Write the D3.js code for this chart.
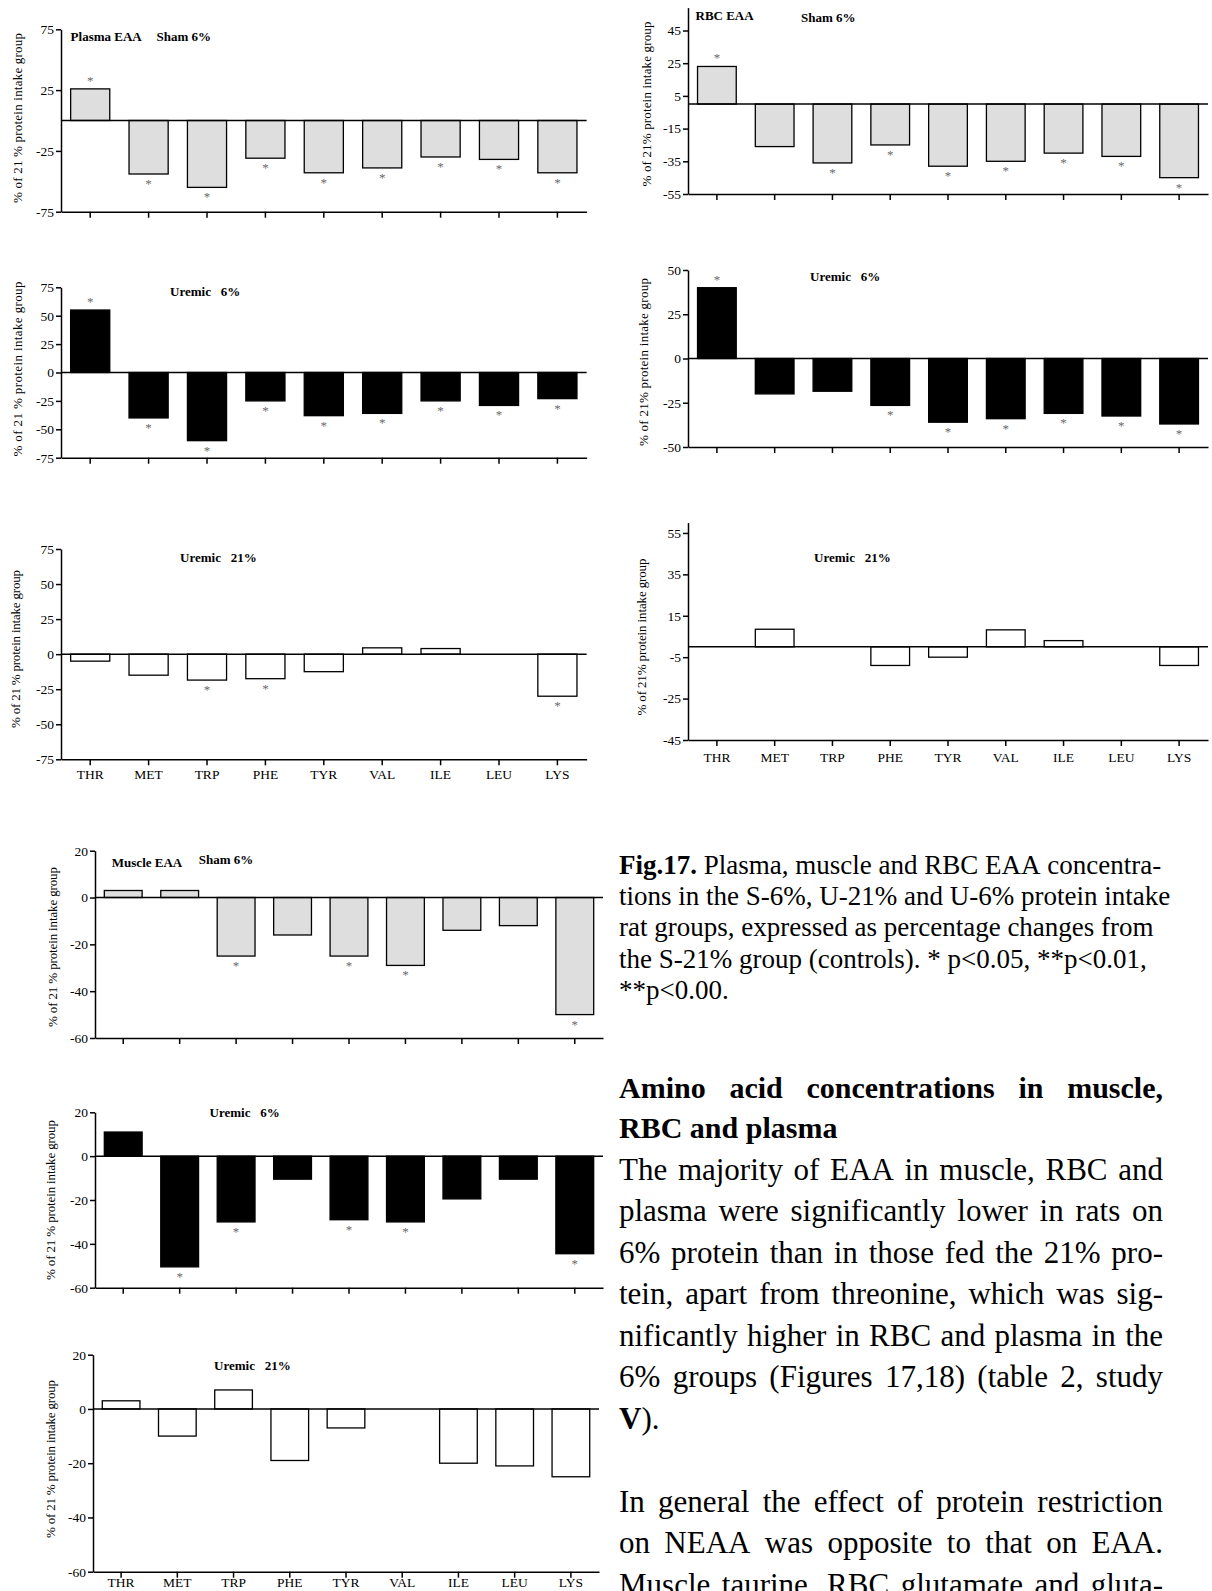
<!DOCTYPE html>
<html>
<head>
<meta charset="utf-8">
<script src="https://cdn.jsdelivr.net/npm/d3@7"></script>
<style>
  body { margin: 0; background: #fff; }
  svg { display: block; }
</style>
</head>
<body>
<svg id="page" width="1212" height="1591"></svg>
<script>
// ---- data ----
const aminoAcids = ["THR", "MET", "TRP", "PHE", "TYR", "VAL", "ILE", "LEU", "LYS"];

// plasma EAA, % change from S-21%
const plasmaSham6 = [26, -44, -55, -31, -43, -39, -30, -32, -43];
const plasmaSham6Sig = [1, 1, 1, 1, 1, 1, 1, 1, 1];
const plasmaUremic6 = [55, -40, -60, -25, -38, -36, -25, -29, -23];
const plasmaUremic6Sig = [1, 1, 1, 1, 1, 1, 1, 1, 1];
const plasmaUremic21 = [-5, -15, -18.5, -17.5, -12.5, 4.5, 4, 0, -30];
const plasmaUremic21Sig = [0, 0, 1, 1, 0, 0, 0, 0, 1];

// RBC EAA
const rbcSham6 = [23, -26, -36, -25, -38, -35, -30, -32, -45];
const rbcSham6Sig = [1, 0, 1, 1, 1, 1, 1, 1, 1];
const rbcUremic6 = [40, -20, -18.5, -26.5, -36, -34, -31, -32.5, -37];
const rbcUremic6Sig = [1, 0, 0, 1, 1, 1, 1, 1, 1];
const rbcUremic21 = [0, 8.5, 0, -9, -5, 8.2, 3, 0, -9];
const rbcUremic21Sig = [0, 0, 0, 0, 0, 0, 0, 0, 0];

// muscle EAA
const muscleSham6 = [3, 3, -25, -16, -25, -29, -14, -12, -50];
const muscleSham6Sig = [0, 0, 1, 0, 1, 1, 0, 0, 1];
const muscleUremic6 = [11, -50.5, -30, -10.5, -29, -30, -19.5, -10.5, -44.5];
const muscleUremic6Sig = [0, 1, 1, 0, 1, 1, 0, 0, 1];
const muscleUremic21 = [3, -10, 7, -19, -7, 0, -20, -21, -25];
const muscleUremic21Sig = [0, 0, 0, 0, 0, 0, 0, 0, 0];

// tick labels
const ticksPlasmaSham = [75, 25, -25, -75];
const ticksPlasma = [75, 50, 25, 0, -25, -50, -75];
const ticksRbcSham = [45, 25, 5, -15, -35, -55];
const ticksRbcUremic6 = [50, 25, 0, -25, -50];
const ticksRbcUremic21 = [55, 35, 15, -5, -25, -45];
const ticksMuscle = [20, 0, -20, -40, -60];

const yLabelSpaced = "% of 21 % protein intake group";
const yLabelTight = "% of 21% protein intake group";

const captionLines = [
  "{Fig.17.} Plasma, muscle and RBC EAA concentra-",
  "tions in the S-6%, U-21% and U-6% protein intake",
  "rat groups, expressed as percentage changes from",
  "the S-21% group (controls). * p<0.05, **p<0.01,",
  "**p<0.00."
];
const headingLines = ["Amino acid concentrations in muscle,", "RBC and plasma"];
const bodyLines = [
  "The majority of EAA in muscle, RBC and",
  "plasma were significantly lower in rats on",
  "6% protein than in those fed the 21% pro-",
  "tein, apart from threonine, which was sig-",
  "nificantly higher in RBC and plasma in the",
  "6% groups (Figures 17,18) (table 2, study",
  "{V}).",
  "",
  "In general the effect of protein restriction",
  "on NEAA was opposite to that on EAA.",
  "Muscle taurine, RBC glutamate and gluta-"
];

// ---- layout ----
const serif = "'Liberation Serif', 'Times New Roman', serif";
const svg = d3.select("#page");

const greyFill = "#dedede", blackFill = "#000", whiteFill = "#fff";

const panels = [
  { values: plasmaSham6, sig: plasmaSham6Sig, ticks: ticksPlasmaSham, fill: greyFill,
    x0: 61, w: 525.6, min: -75, max: 75, yMin: 211.7, yMax: 29.3,
    titles: [["Plasma EAA", 70.6, 40.5], ["Sham 6%", 156.5, 41]],
    ylab: [17, 118, 170, yLabelSpaced], labels: false },
  { values: rbcSham6, sig: rbcSham6Sig, ticks: ticksRbcSham, fill: greyFill,
    x0: 688, w: 520, min: -55, max: 59, yMin: 194, yMax: 7.6,
    titles: [["RBC EAA", 695.5, 20], ["Sham 6%", 801, 22]],
    ylab: [646, 104, 165, yLabelTight], labels: false },
  { values: plasmaUremic6, sig: plasmaUremic6Sig, ticks: ticksPlasma, fill: blackFill,
    x0: 61, w: 525.6, min: -75, max: 75, yMin: 457.7, yMax: 287.3,
    titles: [["Uremic\u00a0\u00a0 6%", 170, 295.5]],
    ylab: [17, 369, 175, yLabelSpaced], labels: false },
  { values: rbcUremic6, sig: rbcUremic6Sig, ticks: ticksRbcUremic6, fill: blackFill,
    x0: 688, w: 520, min: -50, max: 50, yMin: 447, yMax: 270,
    titles: [["Uremic\u00a0\u00a0 6%", 810, 281]],
    ylab: [643.5, 362, 168, yLabelTight], labels: false },
  { values: plasmaUremic21, sig: plasmaUremic21Sig, ticks: ticksPlasma, fill: whiteFill,
    x0: 61, w: 525.6, min: -75, max: 75, yMin: 759.3, yMax: 549,
    titles: [["Uremic\u00a0\u00a0 21%", 180, 561.5]],
    ylab: [15.5, 649, 158, yLabelSpaced], labels: true, pad: 4 },
  { values: rbcUremic21, sig: rbcUremic21Sig, ticks: ticksRbcUremic21, fill: whiteFill,
    x0: 688, w: 520, min: -45, max: 60, yMin: 740, yMax: 522.6,
    titles: [["Uremic\u00a0\u00a0 21%", 814, 561.5]],
    ylab: [641, 637, 157, yLabelTight], labels: true, pad: 6 },
  { values: muscleSham6, sig: muscleSham6Sig, ticks: ticksMuscle, fill: greyFill,
    x0: 95, w: 508, min: -60, max: 20, yMin: 1038, yMax: 850.7,
    titles: [["Muscle EAA", 111.8, 867], ["Sham 6%", 198.7, 864]],
    ylab: [52.4, 947, 160, yLabelSpaced], labels: false },
  { values: muscleUremic6, sig: muscleUremic6Sig, ticks: ticksMuscle, fill: blackFill,
    x0: 95, w: 508, min: -60, max: 20, yMin: 1287.7, yMax: 1112.3,
    titles: [["Uremic\u00a0\u00a0 6%", 209.5, 1117]],
    ylab: [50.4, 1200, 160, yLabelSpaced], labels: false },
  { values: muscleUremic21, sig: muscleUremic21Sig, ticks: ticksMuscle, fill: whiteFill,
    x0: 93, w: 506, min: -60, max: 20, yMin: 1571.7, yMax: 1354.7,
    titles: [["Uremic\u00a0\u00a0 21%", 214, 1370]],
    ylab: [50.4, 1459, 158, yLabelSpaced], labels: true, pad: -0.5 }
];

function drawPanel(p) {
  const g = svg.append("g").attr("class", "panel");

  const x = d3.scaleBand()
    .domain(aminoAcids)
    .range([p.x0, p.x0 + p.w])
    .paddingInner(0.33)
    .paddingOuter(0.165);

  const y = d3.scaleLinear()
    .domain([p.min, p.max])
    .range([p.yMin, p.yMax]);

  const rows = aminoAcids.map((name, i) => ({ name: name, v: p.values[i], sig: p.sig[i] }));

  // bars
  g.selectAll("rect.bar")
    .data(rows.filter(d => d.v !== 0))
    .enter().append("rect")
    .attr("class", "bar")
    .attr("x", d => x(d.name))
    .attr("width", x.bandwidth())
    .attr("y", d => y(Math.max(0, d.v)))
    .attr("height", d => Math.abs(y(d.v) - y(0)))
    .style("fill", p.fill)
    .style("stroke", "#000")
    .style("stroke-width", 1.3);

  // zero line
  g.append("line")
    .attr("x1", p.x0).attr("x2", p.x0 + p.w)
    .attr("y1", y(0)).attr("y2", y(0))
    .style("stroke", "#000")
    .style("stroke-width", 1.5);

  // significance stars
  g.selectAll("text.star")
    .data(rows.filter(d => d.sig))
    .enter().append("text")
    .attr("class", "star")
    .attr("x", d => x(d.name) + x.bandwidth() / 2)
    .attr("y", d => d.v >= 0 ? y(d.v) - 4 : y(d.v) + 14)
    .attr("text-anchor", "middle")
    .style("font-family", serif)
    .style("font-size", "13px")
    .style("fill", "#6a6a6a")
    .text("*");

  // y axis (plain hyphen for negatives, as in the print)
  const ya = g.append("g")
    .attr("transform", "translate(" + p.x0 + ",0)")
    .call(d3.axisLeft(y).tickValues(p.ticks).tickSize(5).tickSizeOuter(0).tickPadding(2)
      .tickFormat(d => String(d)));

  // x axis at the bottom of the plot
  const xa = g.append("g")
    .attr("transform", "translate(0," + y(p.min) + ")")
    .call(d3.axisBottom(x).tickSize(6).tickSizeOuter(0)
      .tickPadding(p.pad === undefined ? 3 : p.pad)
      .tickFormat(d => p.labels ? d : ""));

  [ya, xa].forEach(a => {
    a.attr("font-family", serif).attr("font-size", 13.5);
    a.selectAll("path, line").style("stroke", "#000").style("stroke-width", 1.5);
    a.selectAll("text").style("fill", "#000");
  });

  // titles
  p.titles.forEach(t => {
    g.append("text")
      .attr("x", t[1]).attr("y", t[2])
      .style("font-family", serif)
      .style("font-weight", "bold")
      .style("font-size", "13px")
      .text(t[0]);
  });

  // y label
  g.append("text")
    .attr("transform", "translate(" + p.ylab[0] + "," + p.ylab[1] + ") rotate(-90)")
    .attr("text-anchor", "middle")
    .attr("dy", "0.35em")
    .attr("textLength", p.ylab[2])
    .attr("lengthAdjust", "spacing")
    .style("font-family", serif)
    .style("font-size", "13px")
    .text(p.ylab[3]);
}

panels.forEach(drawPanel);

// ---- text block on the right ----
function writeLine(str, x, y, size, opts) {
  if (!str) return;
  const g = svg.append("g").style("font-family", serif).style("font-size", size + "px");
  const words = str.split(" ");
  const nodes = words.map(w => {
    const t = g.append("text").attr("y", y);
    w.split(/(\{[^}]*\})/).filter(s => s.length).forEach(seg => {
      const bold = opts.bold || seg[0] === "{";
      t.append("tspan")
        .style("font-weight", bold ? "bold" : "normal")
        .text(seg.replace(/[{}]/g, ""));
    });
    return t;
  });
  const widths = nodes.map(n => n.node().getComputedTextLength());
  let gap = size * 0.25;
  if (opts.justify && words.length > 1) {
    gap = Math.max(gap, (opts.justify - d3.sum(widths)) / (words.length - 1));
  }
  let cx = x;
  nodes.forEach((n, i) => { n.attr("x", cx); cx += widths[i] + gap; });
}

const textX = 619, textW = 544;

captionLines.forEach((l, i) => writeLine(l, textX, 873.5 + i * 31.4, 27, {}));

writeLine(headingLines[0], textX, 1098.3, 30, { bold: true, justify: textW });
writeLine(headingLines[1], textX, 1138.3, 30, { bold: true });

bodyLines.forEach((l, i) => {
  const last = l === "{V}).";
  writeLine(l, textX, 1179.5 + i * 41.5, 31, { justify: last ? null : textW });
});
</script>
</body>
</html>
